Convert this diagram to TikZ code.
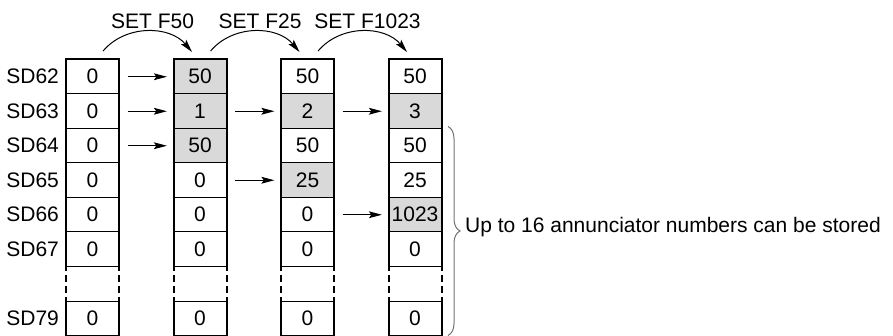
\documentclass[tikz,border=0pt]{standalone}
\usepackage{fontspec}
\setmainfont{Liberation Sans}
\usetikzlibrary{arrows.meta,positioning,decorations.pathreplacing}

\tikzset{
	cell/.style={draw, line width=0.5pt, minimum width=26.5pt, minimum height=17.25pt, inner sep=0pt, outer sep=0pt},
	hit/.style={cell, fill=black!15},
	colframe/.style={line width=1pt},
	gapline/.style={line width=1pt, dash pattern=on 3.3pt off 2.2pt, dash phase=1.3pt},
	mvarrow/.style={-{Stealth[length=6.5pt,width=3.4pt,inset=1.2pt]}, line width=0.5pt, shorten <=4.3pt, shorten >=3.3pt},
	setarrow/.style={-{Stealth[length=6.5pt,width=3.4pt,inset=1.2pt]}, line width=0.5pt},
	brace/.style={decorate, decoration={brace, amplitude=6pt}, draw=black!55, line width=0.5pt}
}

\begin{document}
\begin{tikzpicture}[x=0.5pt, y=0.5pt, font=\fontsize{10.5}{12}\selectfont]
	
	\useasboundingbox (0,0) rectangle (893,-336);
	
	% Initial state
	\begin{scope}[shift={(92.5,0)}]
		\node[cell] (a62) at (0,-76.75) {0};
		\node[cell] (a63) at (0,-111.25) {0};
		\node[cell] (a64) at (0,-145.75) {0};
		\node[cell] (a65) at (0,-180.25) {0};
		\node[cell] (a66) at (0,-214.75) {0};
		\node[cell] (a67) at (0,-249.25) {0};
		\node[cell] (a79) at (0,-318.25) {0};
	\end{scope}
	
	% After SET F50
	\begin{scope}[shift={(200,0)}]
		\node[hit] (b62) at (0,-76.75) {50};
		\node[hit] (b63) at (0,-111.25) {1};
		\node[hit] (b64) at (0,-145.75) {50};
		\node[cell] (b65) at (0,-180.25) {0};
		\node[cell] (b66) at (0,-214.75) {0};
		\node[cell] (b67) at (0,-249.25) {0};
		\node[cell] (b79) at (0,-318.25) {0};
	\end{scope}
	
	% After SET F25
	\begin{scope}[shift={(307.5,0)}]
		\node[cell] (c62) at (0,-76.75) {50};
		\node[hit] (c63) at (0,-111.25) {2};
		\node[cell] (c64) at (0,-145.75) {50};
		\node[hit] (c65) at (0,-180.25) {25};
		\node[cell] (c66) at (0,-214.75) {0};
		\node[cell] (c67) at (0,-249.25) {0};
		\node[cell] (c79) at (0,-318.25) {0};
	\end{scope}
	
	% After SET F1023
	\begin{scope}[shift={(415,0)}]
		\node[cell] (d62) at (0,-76.75) {50};
		\node[hit] (d63) at (0,-111.25) {3};
		\node[cell] (d64) at (0,-145.75) {50};
		\node[cell] (d65) at (0,-180.25) {25};
		\node[hit] (d66) at (0,-214.75) {1023};
		\node[cell] (d67) at (0,-249.25) {0};
		\node[cell] (d79) at (0,-318.25) {0};
	\end{scope}
	
	% Column outlines
	\draw[colframe] (a67.south west) -- (a62.north west) -- (a62.north east) -- (a67.south east);
	\draw[colframe] (b67.south west) -- (b62.north west) -- (b62.north east) -- (b67.south east);
	\draw[colframe] (c67.south west) -- (c62.north west) -- (c62.north east) -- (c67.south east);
	\draw[colframe] (d67.south west) -- (d62.north west) -- (d62.north east) -- (d67.south east);
	\draw[colframe] (a79.north west) -- (a79.south west) -- (a79.south east) -- (a79.north east);
	\draw[colframe] (b79.north west) -- (b79.south west) -- (b79.south east) -- (b79.north east);
	\draw[colframe] (c79.north west) -- (c79.south west) -- (c79.south east) -- (c79.north east);
	\draw[colframe] (d79.north west) -- (d79.south west) -- (d79.south east) -- (d79.north east);
	
	% Omitted rows
	\draw[gapline] (a67.south west) -- (a79.north west);
	\draw[gapline] (a67.south east) -- (a79.north east);
	\draw[gapline] (b67.south west) -- (b79.north west);
	\draw[gapline] (b67.south east) -- (b79.north east);
	\draw[gapline] (c67.south west) -- (c79.north west);
	\draw[gapline] (c67.south east) -- (c79.north east);
	\draw[gapline] (d67.south west) -- (d79.north west);
	\draw[gapline] (d67.south east) -- (d79.north east);
	
	% Register names
	\node[left=0pt of a62] (n62) {SD62};
	\node[left=0pt of a63] (n63) {SD63};
	\node[left=0pt of a64] (n64) {SD64};
	\node[left=0pt of a65] (n65) {SD65};
	\node[left=0pt of a66] (n66) {SD66};
	\node[left=0pt of a67] (n67) {SD67};
	\node[left=0pt of a79] (n79) {SD79};
	
	% Stored values
	\draw[mvarrow] (a62) -- (b62);
	\draw[mvarrow] (a63) -- (b63);
	\draw[mvarrow] (a64) -- (b64);
	\draw[mvarrow] (b63) -- (c63);
	\draw[mvarrow] (b65) -- (c65);
	\draw[mvarrow] (c63) -- (d63);
	\draw[mvarrow] (c66) -- (d66);
	
	% Instructions
	\draw[setarrow] ([shift={(5.3pt,4.25pt)}]a62.north) to[out=50,in=130] node[above, inner sep=1pt, xshift=2.5pt] (f50) {SET F50} ([shift={(-4pt,3.75pt)}]b62.north);
	\draw[setarrow] ([shift={(5.3pt,4.25pt)}]b62.north) to[out=50,in=130] node[above, inner sep=1pt, xshift=2.5pt] (f25) {SET F25} ([shift={(-4pt,3.75pt)}]c62.north);
	\draw[setarrow] ([shift={(5.3pt,4.25pt)}]c62.north) to[out=50,in=130] node[above, inner sep=1pt, xshift=2.5pt] (f1023) {SET F1023} ([shift={(-4pt,3.75pt)}]d62.north);
	
	% Brace
	\draw[brace] ([shift={(3.25pt,1pt)}]d64.north east) -- ([xshift=3.25pt]d79.south east) node[midway, right=5pt, yshift=2pt] (note) {Up to 16 annunciator numbers can be stored};
	
\end{tikzpicture}
\end{document}
